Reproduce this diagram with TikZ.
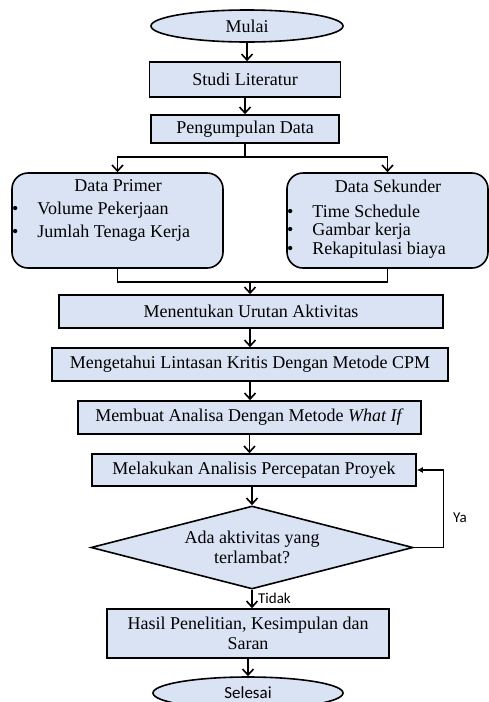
\documentclass[tikz,border=0pt]{standalone}
\usepackage{fontspec}
\setmainfont{Liberation Serif}
\newfontfamily\calibrisub{Carlito}
\usetikzlibrary{shapes.geometric,arrows.meta}
\definecolor{boxblue}{RGB}{218,227,243}
\begin{document}
\begin{tikzpicture}[x=1pt,y=-1pt,
    box/.style={draw=black,line width=1.6pt,fill=boxblue,inner sep=0pt,align=center,font=\fontsize{18}{20}\selectfont},
    term/.style={box,ellipse},
    listbox/.style={box,rounded corners=16pt},
    decision/.style={box,diamond,aspect=3.9},
    arr/.style={line width=1.6pt,-{Straight Barb[length=6pt,width=11pt,line width=1.6pt]}},
    arrya/.style={line width=1.2pt,-{Latex[length=6pt,width=6pt]}},
    item/.style={anchor=west,inner sep=0pt,font=\fontsize{18}{20}\selectfont},
    side/.style={font=\calibrisub\fontsize{15}{18}\selectfont}]
    \useasboundingbox (0,0) rectangle (489,702);
    \clip (0,0) rectangle (489,702);
    \node[term, minimum width=192pt, minimum height=32pt] (mulai) at (247,26) {Mulai};
    \node[box, minimum width=191pt, minimum height=35pt] (studi) at (245,79.5) {Studi Literatur};
    \node[box, minimum width=188pt, minimum height=28pt] (kumpul) at (245,129) {Pengumpulan Data};
    \node[listbox, minimum width=211pt, minimum height=95pt] (primer) at (117.5,220.5) {};
    \node[listbox, minimum width=201pt, minimum height=95pt] (sekunder) at (387.5,220.5) {};
    % isi kotak data
    \node[item, anchor=center] (primert) at (118,186) {Data Primer};
    \node[item] (p1) at (12,210) {\textbullet\hspace{1.05em}Volume Pekerjaan};
    \node[item] (p2) at (12,233) {\textbullet\hspace{1.05em}Jumlah Tenaga Kerja};
    \node[item, anchor=center] (sekundert) at (388,186) {Data Sekunder};
    \node[item] (s1) at (287,211) {\textbullet\hspace{1.05em}Time Schedule};
    \node[item] (s2) at (287,231) {\textbullet\hspace{1.05em}Gambar kerja};
    \node[item] (s3) at (287,250) {\textbullet\hspace{1.05em}Rekapitulasi biaya};
    \node[box, minimum width=384pt, minimum height=33pt] (urutan) at (251,311.5) {Menentukan Urutan Aktivitas};
    \node[box, minimum width=396pt, minimum height=33pt] (cpm) at (250,364.5) {Mengetahui Lintasan Kritis Dengan Metode CPM};
    \node[box, minimum width=343pt, minimum height=33pt] (whatif) at (249.5,417.5) {Membuat Analisa Dengan Metode \textit{What If}};
    \node[box, minimum width=324pt, minimum height=32pt] (cepat) at (254,470) {Melakukan Analisis Percepatan Proyek};
    \node[decision, minimum width=322pt, minimum height=83pt] (cek) at (252,547.5) {Ada aktivitas yang\\terlambat?};
    \node[box, minimum width=282pt, minimum height=49pt] (hasil) at (248,633.5) {Hasil Penelitian, Kesimpulan dan\\Saran};
    \node[term, minimum width=190pt, minimum height=32pt, text height=11pt, text depth=0pt,
          font=\calibrisub\fontsize{17}{20}\selectfont] (selesai) at (248,693) {Selesai};
    % penghubung
    \coordinate (split) at (245,157);
    \coordinate (merge) at (250,282);
    \draw[arr] (mulai.south) -- (mulai.south |- studi.north);
    \draw[arr] (studi.south) -- (studi.south |- kumpul.north);
    \draw[line width=1.6pt] (kumpul.south) -- (split);
    \draw[arr] (split) -| (primer.north);
    \draw[arr] (split) -| (sekunder.north);
    \draw[line width=1.6pt] (primer.south) |- (merge) -| (sekunder.south);
    \draw[arr] (merge) -- (merge |- urutan.north);
    \draw[arr] (cpm.north |- urutan.south) -- (cpm.north);
    \draw[arr] (cpm.south) -- (cpm.south |- whatif.north);
    \draw[arr] (whatif.south) -- (whatif.south |- cepat.north);
    \draw[arr] (cek.north |- cepat.south) -- (cek.north);
    \draw[arr] (cek.south) -- (cek.south |- hasil.north) node[side, pos=0.45, anchor=west, xshift=2pt] (tidak) {Tidak};
    \draw[arr] (hasil.south) -- (hasil.south |- selesai.north);
    \draw[arrya] (cek.east) -- ++(30,0) |- (cepat.east);
    \node[side] (ya) at (460,518) {Ya};
\end{tikzpicture}
\end{document}
